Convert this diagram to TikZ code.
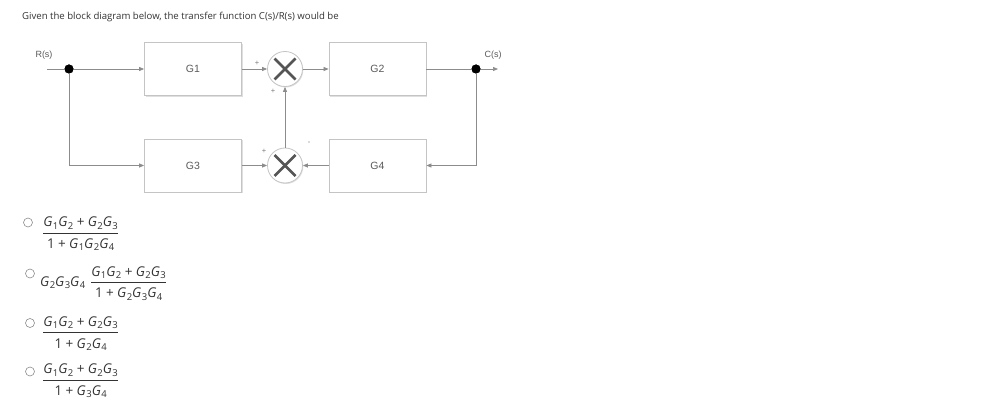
\documentclass[tikz,border=0pt]{standalone}
\usepackage{fontspec}
\setmainfont{Open Sans}
\newfontfamily\arialf{Liberation Sans}
\usetikzlibrary{arrows.meta,shadows,calc}
\definecolor{linegray}{HTML}{8C8C8C}
\definecolor{boxgray}{HTML}{C4C4C4}
\definecolor{txtgray}{HTML}{5A5A5A}
\definecolor{xgray}{HTML}{555555}
\newcommand\Gx[1]{\textit{G}\kern0.03em\raisebox{-0.32ex}{\fontsize{9.5}{9.5}\selectfont #1}}
\newcommand\pl{\kern0.25em+\kern0.25em}
\newcommand\numr[1]{\hbox{#1}}
\newcommand\denr[1]{\hbox{\rule{0pt}{14pt}#1}}
\begin{document}
\begin{tikzpicture}[x=1pt,y=-1pt,
  conn/.style={draw=linegray, line width=0.7pt},
  arr/.style={conn, -{Triangle[length=5pt,width=4pt]}},
  blockbox/.style={draw=boxgray, fill=white, line width=0.8pt, minimum width=97pt, minimum height=53pt,
     drop shadow={opacity=0.25, shadow xshift=1pt, shadow yshift=-1.2pt},
     font=\arialf\fontsize{10.5}{12}\selectfont, text=txtgray},
  sumnode/.style={circle, draw=boxgray, fill=white, line width=0.8pt, minimum size=35pt, inner sep=0pt,
     drop shadow={opacity=0.25, shadow xshift=0.8pt, shadow yshift=-1pt}},
  xmark/.style={draw=xgray, line width=2.8pt},
  junction/.style={circle, fill=black, minimum size=9pt, inner sep=0pt},
  sig/.style={font=\arialf\fontsize{7.5}{7.5}\selectfont, text=txtgray!80, inner sep=0pt},
  lbl/.style={font=\arialf\fontsize{9}{10}\selectfont, text=txtgray, inner sep=0pt},
  radio/.style={circle, draw=linegray, line width=0.6pt, minimum size=9pt, inner sep=0pt},
  opt/.style={font=\fontsize{13.5}{15}\selectfont, text=black!80, inner sep=0pt}
]
\useasboundingbox (0,0) rectangle (989,420);
\fill[white] (0,0) rectangle (989,420);

\node[anchor=west, inner sep=0pt, font=\fontsize{9.6}{11}\selectfont, text=black!80] (title) at (22,17)
  {Given the block diagram below, the transfer function C(s)/R(s) would be};

% blocks
\node[blockbox] (g1) at (193,69) {G1};
\node[blockbox] (g2) at (377.5,69) {G2};
\node[blockbox] (g3) at (193,165.5) {G3};
\node[blockbox] (g4) at (377.5,165.5) {G4};
\node[sumnode] (s1) at (285,69) {};
\node[sumnode] (s2) at (285,165.5) {};
\foreach \s in {s1,s2}{
  \draw[xmark] ([shift={(-10.5,-10.5)}]\s.center) -- ([shift={(10.5,10.5)}]\s.center);
  \draw[xmark] ([shift={(-10.5,10.5)}]\s.center) -- ([shift={(10.5,-10.5)}]\s.center);
}
\node[junction] (d1) at (69,69) {};
\node[junction] (d2) at (476,69) {};
\coordinate (rin) at (47,69);
\coordinate (cout) at (498,69);
\node[lbl] (rlab) at (44,55) {R(s)};
\node[lbl] (clab) at (493,55) {C(s)};

% signs
\node[sig] (p1) at (257,63) {+};
\node[sig] (p2) at (273,91) {+};
\node[sig] (p3) at (264,151) {+};
\node[sig] (m1) at (309,143) {-};

% connectors
\draw[conn] (rin) -- (d1);
\draw[arr] (d1) -- (g1.west);
\draw[arr] (g1.east) -- (s1.west);
\draw[arr] (s1.east) -- (g2.west);
\draw[conn] (g2.east) -- (d2);
\draw[arr] (d2) -- (cout);
\draw[arr] (d2) |- (g4.east);
\draw[arr] (d1) |- (g3.west);
\draw[arr] (g3.east) -- (s2.west);
\draw[arr] (g4.west) -- (s2.east);
\draw[arr] (s2.north) -- (s1.south);
\node[junction] at (d1) {};
\node[junction] at (d2) {};

% options
\node[radio] (r1) at (28,222.5) {};
\node[radio] (r2) at (30,273.5) {};
\node[radio] (r3) at (30,323) {};
\node[radio] (r4) at (30,371.5) {};
\node[opt, anchor=west] (o1) at (42,234)
  {$\displaystyle\frac{\numr{\Gx1\Gx2\pl\Gx2\Gx3}}{\denr{1\pl\Gx1\Gx2\Gx4}}$};
\node[opt, anchor=west] (o2pre) at (40,283) {\Gx2\Gx3\Gx4};
\node[opt, anchor=west] (o2) at (90,283.5)
  {$\displaystyle\frac{\numr{\Gx1\Gx2\pl\Gx2\Gx3}}{\denr{1\pl\Gx2\Gx3\Gx4}}$};
\node[opt, anchor=west] (o3) at (42,333.5)
  {$\displaystyle\frac{\numr{\Gx1\Gx2\pl\Gx2\Gx3}}{\denr{1\pl\Gx2\Gx4}}$};
\node[opt, anchor=west] (o4) at (42,381)
  {$\displaystyle\frac{\numr{\Gx1\Gx2\pl\Gx2\Gx3}}{\denr{1\pl\Gx3\Gx4}}$};
\end{tikzpicture}
\end{document}
